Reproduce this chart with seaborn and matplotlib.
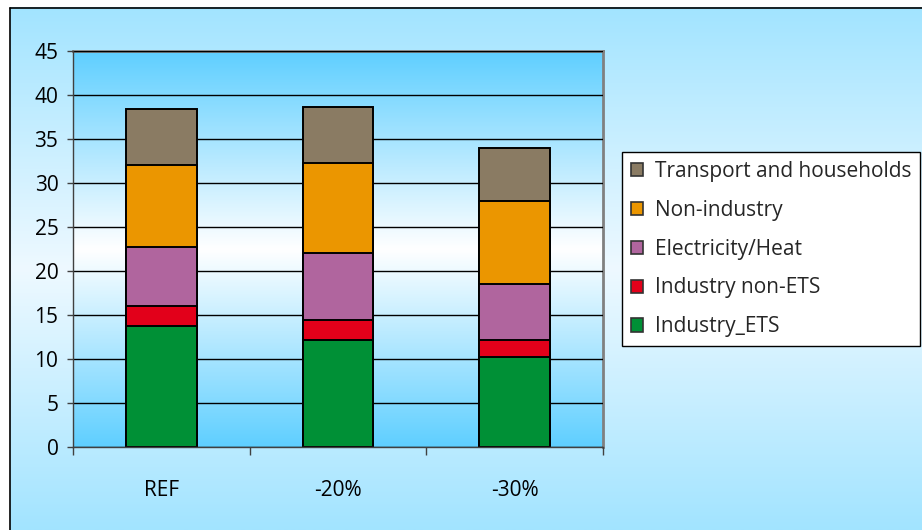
import numpy as np
import pandas as pd
import matplotlib
matplotlib.use("Agg")
import matplotlib.pyplot as plt
from matplotlib.patches import Patch
from matplotlib.colors import LinearSegmentedColormap
from matplotlib.lines import Line2D
import seaborn as sns

# Emissions by sector under each scenario
scenarios = ["REF", "-20%", "-30%"]
industry_ets = [13.7, 12.1, 10.2]
industry_non_ets = [2.3, 2.35, 1.9]
electricity_heat = [6.75, 7.55, 6.35]
non_industry = [9.25, 10.2, 9.45]
transport_households = [6.4, 6.4, 6.05]

sector_labels = ["Industry_ETS", "Industry non-ETS", "Electricity/Heat",
                 "Non-industry", "Transport and households"]
sector_colors = ["#009036", "#e2001a", "#b0659e", "#eb9600", "#8a7b63"]
y_ticks = [0, 5, 10, 15, 20, 25, 30, 35, 40, 45]

sns.set_theme(style="white")
plt.rcParams["font.family"] = ["Open Sans", "DejaVu Sans"]
FS = 15

W, H = 922, 530
fig = plt.figure(figsize=(W / 100, H / 100), dpi=100, facecolor="white")

# Figure background panel: blue-white-blue vertical gradient with a border
bg = fig.add_axes([0, 0, 1, 1], zorder=-10)
bg.set_xlim(0, 1)
bg.set_ylim(0, 1)
bg.axis("off")
bg_cmap = LinearSegmentedColormap.from_list(
    "bgpanel", ["#a2e4ff", "#eef9ff", "#a2e4ff"])
grad = np.linspace(0, 1, 256).reshape(-1, 1)
x0, y1 = 9.5 / W, 1 - 7.5 / H
bg.imshow(grad, cmap=bg_cmap, aspect="auto", extent=(x0, 1, 0, y1),
          origin="lower", zorder=0)
bg.add_line(Line2D([x0, x0], [0, y1], color="black", lw=1.2, zorder=2))
bg.add_line(Line2D([x0, 1], [y1, y1], color="black", lw=1.2, zorder=2))

# Plot area
left, right = 73 / W, 603 / W
bottom, top = 1 - 446.7 / H, 1 - 50.7 / H
ax = fig.add_axes([left, bottom, right - left, top - bottom])
ax.patch.set_alpha(0)

plot_cmap = LinearSegmentedColormap.from_list(
    "plotarea", ["#5fcfff", "#ffffff", "#5fcfff"])
ax.imshow(grad, cmap=plot_cmap, aspect="auto", extent=(-0.5, 2.5, 0, 45),
          origin="lower", zorder=0)

layers = [industry_ets, industry_non_ets, electricity_heat,
          non_industry, transport_households]
cumulative = np.cumsum(np.array(layers, dtype=float), axis=0)

# Stacked bars: draw cumulative totals from the top layer down
for i in reversed(range(len(layers))):
    df = pd.DataFrame({"scenario": scenarios, "value": cumulative[i]})
    sns.barplot(data=df, x="scenario", y="value", color=sector_colors[i],
                saturation=1, width=0.4, edgecolor="black", linewidth=1.4,
                ax=ax, zorder=3)

ax.set_xlim(-0.5, 2.5)
ax.set_ylim(0, 45)
ax.set_xlabel("")
ax.set_ylabel("")

ax.set_yticks(y_ticks)
ax.set_yticklabels([str(t) for t in y_ticks], fontsize=FS, color="black")
ax.yaxis.grid(True, color="black", lw=1.0, zorder=1)
ax.set_axisbelow(False)
for gl in ax.get_ygridlines():
    gl.set_zorder(1)

ax.set_xticks([-0.5, 0.5, 1.5, 2.5])
ax.set_xticklabels([])
ax.set_xticks([0, 1, 2], minor=True)
ax.set_xticklabels(scenarios, minor=True, fontsize=FS, color="black")
ax.tick_params(axis="x", which="major", direction="out", length=6,
               width=1, color="#404040", bottom=True)
ax.tick_params(axis="x", which="minor", length=0, pad=24)
ax.tick_params(axis="y", direction="out", length=4.5, width=1,
               color="#404040", left=True, pad=6)

for side in ["top", "right"]:
    ax.spines[side].set_color("#808080")
    ax.spines[side].set_linewidth(2)
for side in ["left", "bottom"]:
    ax.spines[side].set_color("#404040")
    ax.spines[side].set_linewidth(1)
    ax.spines[side].set_zorder(5)

# Legend listed from the top layer down
handles = [Patch(facecolor=c, edgecolor="#333333", linewidth=1.2, label=l)
           for l, c in zip(sector_labels, sector_colors)][::-1]
leg = fig.legend(handles=handles, loc="upper left",
                 bbox_to_anchor=(622 / W, 1 - 152 / H),
                 bbox_transform=fig.transFigure, fontsize=FS,
                 frameon=True, fancybox=False, framealpha=1,
                 edgecolor="black", facecolor="white",
                 handlelength=0.6, handleheight=0.6, handletextpad=0.55,
                 labelspacing=0.86, borderpad=0.42, borderaxespad=0)
leg.get_frame().set_linewidth(1)

fig.savefig("out.png", dpi=100, facecolor="white")
